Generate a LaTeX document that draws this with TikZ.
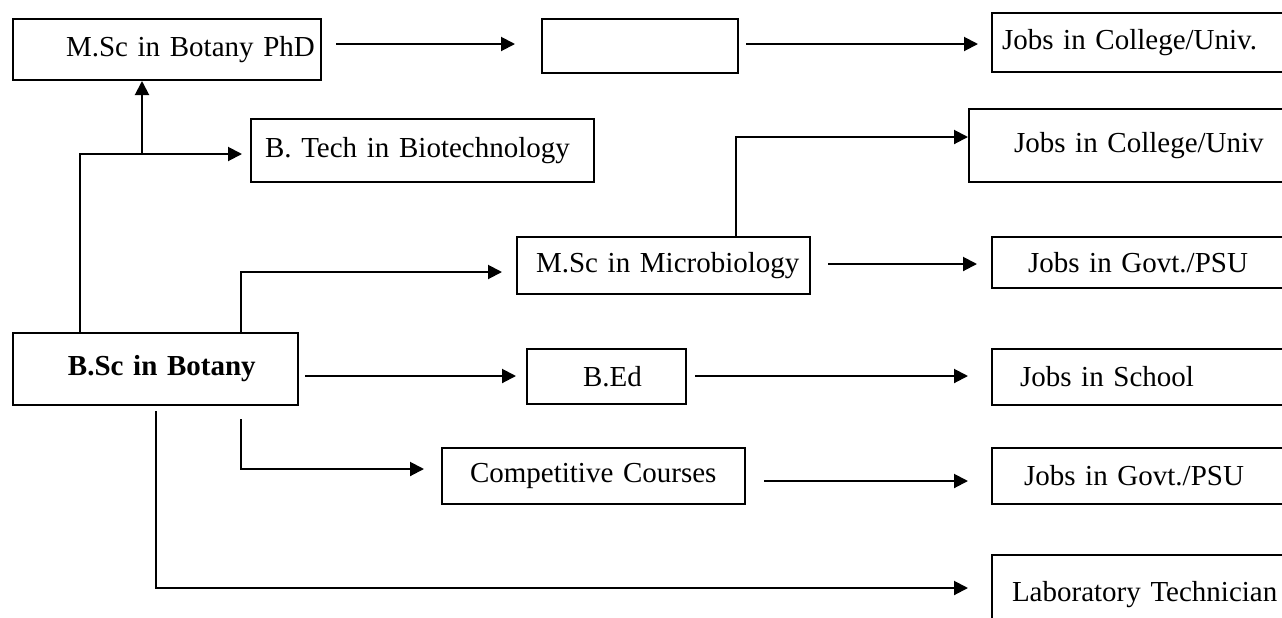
\documentclass[tikz,border=0pt]{standalone}
\usepackage{fontspec}
\setmainfont{Liberation Serif}
\usetikzlibrary{positioning,calc,arrows.meta}

\begin{document}
\begin{tikzpicture}[x=0.5pt, y=-0.5pt, line width=1pt,
  >={Triangle[length=7pt,width=7pt]},
  box/.style={rectangle, draw, anchor=north west, align=left, inner ysep=0pt,
    font=\fontsize{14.5}{17}\selectfont}]
\clip (0,0) rectangle (1282,617);

% left and middle column
\node[box, minimum height=30.5pt, inner xsep=26.5pt, text width=101pt] (phd) at (12,18) {\mbox{M.Sc in Botany PhD}};
\node[box, minimum height=27pt, inner xsep=5pt, text width=88pt] (blank) at (541,18) {};
\node[box, minimum height=31.5pt, inner xsep=7pt, text width=157.5pt] (btech) at (250,118) {B. Tech in Biotechnology};
\node[box, minimum height=28.5pt, inner xsep=9.5pt, text width=127.5pt] (micro) at (516,236) {\mbox{M.Sc in Microbiology}};
\node[box, minimum height=36pt, inner xsep=27.5pt, text width=87.5pt] (bsc) at (12,332) {\mbox{\textbf{B.Sc in Botany}}};
\node[box, minimum height=27.5pt, inner xsep=28pt, text width=23.5pt] (bed) at (526,348) {\mbox{B.Ed}};
\node[box, minimum height=28pt, inner xsep=14pt, text width=123.5pt] (comp) at (441,447) {\mbox{Competitive Courses}};

% right column (runs off the page)
\node[box, minimum height=29.5pt, inner xsep=5pt, text width=140pt] (jobcol1) at (991,12) {Jobs in College/Univ.};
\node[box, minimum height=36.5pt, inner xsep=22.5pt, text width=140pt] (jobcol2) at (968,108) {Jobs in College/Univ};
\node[box, minimum height=25.5pt, inner xsep=18pt, text width=140pt] (govt1) at (991,236) {Jobs in Govt./PSU};
\node[box, minimum height=28pt, inner xsep=14pt, text width=140pt] (school) at (991,348) {Jobs in School};
\node[box, minimum height=28pt, inner xsep=16pt, text width=140pt] (govt2) at (991,447) {Jobs in Govt./PSU};
\node[box, minimum height=40pt, inner xsep=10pt, text width=140pt] (lab) at (991,554) {Laboratory Technician};

\coordinate (fork) at (142,153);

\draw[->] ($(phd.east |- blank.west)+(14,-2)$) -- ($(blank.west)+(-26,-2)$);
\draw[->] ($(blank.east)+(7,-2)$) -- ($(blank.east -| jobcol1.west)+(-13,-2)$);
\draw[->] ($(bsc.north west)+(68,0)$) |- ($(btech.west)+(-8,3.5)$);
\draw[->] (fork) -- (fork |- phd.south);
\draw[->] ($(bsc.north west)+(229,0)$) |- ($(micro.west)+(-14,6.5)$);
\draw[->] ($(micro.north west)+(220,0)$) |- ($(jobcol2.west)+(0,-8.5)$);
\draw[->] ($(micro.east)+(17,-1.5)$) -- ($(micro.east -| govt1.west)+(-14,-1.5)$);
\draw[->] ($(bsc.east |- bed.west)+(6,-0.5)$) -- ($(bed.west)+(-10,-0.5)$);
\draw[->] ($(bed.east)+(8,-0.5)$) -- ($(bed.east -| school.west)+(-23,-0.5)$);
\draw[->] ($(bsc.south west)+(229,13)$) |- ($(comp.west)+(-17,-7)$);
\draw[->] ($(comp.east)+(18,5)$) -- ($(comp.east -| govt2.west)+(-23,5)$);
\draw[->] ($(bsc.south west)+(144,5)$) |- ($(lab.west)+(-23,-7)$);
\end{tikzpicture}
\end{document}
